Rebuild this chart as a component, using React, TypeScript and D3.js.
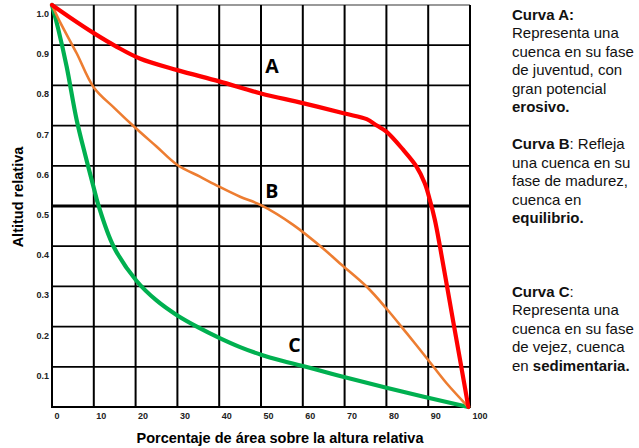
import React, { useRef, useEffect } from "react";
import * as d3 from "d3";

// curve readings (percent of area, relative altitude)
const curveAx = [0, 4.3, 10, 15.5, 21, 30, 40, 50, 60, 70, 75.3, 77.7, 80, 84, 87.2, 89.2, 90.4, 91.6, 92.8, 96, 98, 99.6];
const curveAy = [1.0, 0.969, 0.93, 0.896, 0.867, 0.838, 0.81, 0.78, 0.756, 0.73, 0.716, 0.7, 0.685, 0.64, 0.598, 0.556, 0.515, 0.465, 0.4, 0.212, 0.095, 0.0];

const curveBx = [0, 1.9, 5.9, 10, 15, 20, 25, 30, 35.4, 40, 45, 50, 57.7, 65, 68.9, 75.3, 80, 84.9, 90, 94.4, 99.6];
const curveBy = [1.0, 0.958, 0.88, 0.795, 0.743, 0.694, 0.648, 0.602, 0.573, 0.548, 0.523, 0.502, 0.453, 0.393, 0.357, 0.299, 0.245, 0.183, 0.117, 0.059, 0.0];

const curveCx = [0, 1.5, 3.5, 5.9, 8, 10, 11.1, 14.7, 20.2, 25, 29.8, 35, 40, 45, 50, 55, 60, 68.9, 80, 90, 99.6];
const curveCy = [1.0, 0.94, 0.847, 0.714, 0.625, 0.545, 0.502, 0.4, 0.314, 0.265, 0.229, 0.198, 0.172, 0.149, 0.13, 0.115, 0.102, 0.077, 0.048, 0.023, 0.0];

const xTicks = [0, 10, 20, 30, 40, 50, 60, 70, 80, 90, 100];
const yTicks = [0.1, 0.2, 0.3, 0.4, 0.5, 0.6, 0.7, 0.8, 0.9, 1.0];
const yTickLabels = ["0.1", "0.2", "0.3", "0.4", "0.5", "0.6", "0.7", "0.8", "0.9", "1.0"];

const curveNames = ["A", "B", "C"];
const curveLabelPos = [[51, 0.83], [51, 0.52], [56.5, 0.137]];

const notes = [
    [["Curva A:", true]],
    [["Representa una", false]],
    [["cuenca en su fase", false]],
    [["de juventud, con", false]],
    [["gran potencial", false]],
    [["erosivo.", true]],
    null,
    [["Curva B", true], [": Refleja", false]],
    [["una cuenca en su", false]],
    [["fase de madurez,", false]],
    [["cuenca en", false]],
    [["equilibrio.", true]],
    null,
    null,
    null,
    [["Curva C", true], [":", false]],
    [["Representa una", false]],
    [["cuenca en su fase", false]],
    [["de vejez, cuenca", false]],
    [["en ", false], ["sedimentaria.", true]],
];

const width = 639;
const height = 448;

const Hypsometric = () => {
    const ref = useRef(null);

    useEffect(() => {
        const root = d3.select(ref.current);
        root.selectAll("*").remove();

        const svg = root
            .append("svg")
            .attr("width", width)
            .attr("height", height)
            .style("position", "absolute")
            .style("left", 0)
            .style("top", 0)
            .style("background", "#fff");

        const x = d3.scaleLinear().domain([0, 100]).range([52, 470]);
        const y = d3.scaleLinear().domain([0, 1]).range([407, 5]);

        const grid = svg.append("g");
        // horizontal lines
        grid.selectAll("line.h")
            .data(yTicks)
            .enter()
            .append("line")
            .attr("x1", x(0))
            .attr("x2", x(100))
            .attr("y1", (d) => y(d))
            .attr("y2", (d) => y(d))
            .attr("stroke", (d) => (d === 1.0 ? "#777" : "#000"))
            .attr("stroke-width", (d) => (d === 0.5 ? 2.8 : d === 1.0 ? 1.5 : 1.7));
        // vertical lines
        grid.selectAll("line.v")
            .data(xTicks)
            .enter()
            .append("line")
            .attr("x1", (d) => x(d))
            .attr("x2", (d) => x(d))
            .attr("y1", y(1))
            .attr("y2", y(0))
            .attr("stroke", "#000")
            .attr("stroke-width", 2);
        // bottom axis
        grid.append("line")
            .attr("x1", x(0) - 1)
            .attr("x2", x(100) + 1)
            .attr("y1", y(0))
            .attr("y2", y(0))
            .attr("stroke", "#000")
            .attr("stroke-width", 2.2);

        // tick labels
        svg.selectAll("text.xt")
            .data(xTicks)
            .enter()
            .append("text")
            .attr("x", (d) => x(d) + 2.5)
            .attr("y", 419)
            .attr("font-family", "Liberation Sans, Arial, sans-serif")
            .attr("font-weight", "bold")
            .attr("font-size", 9)
            .attr("fill", "#222")
            .text((d) => d);

        svg.selectAll("text.yt")
            .data(yTicks)
            .enter()
            .append("text")
            .attr("x", 49)
            .attr("y", (d) => y(d) + 12)
            .attr("text-anchor", "end")
            .attr("font-family", "Liberation Sans, Arial, sans-serif")
            .attr("font-weight", "bold")
            .attr("font-size", 9)
            .attr("fill", "#222")
            .text((d, i) => yTickLabels[i]);

        // curves
        const line = d3
            .line()
            .x((d) => x(d[0]))
            .y((d) => y(d[1]))
            .curve(d3.curveCatmullRom.alpha(0.5));

        const curves = [
            { xs: curveCx, ys: curveCy, color: "#00b050", w: 4.2 },
            { xs: curveBx, ys: curveBy, color: "#ed7d31", w: 2.6 },
            { xs: curveAx, ys: curveAy, color: "#ff0000", w: 4.2 },
        ];
        curves.forEach((c) => {
            svg.append("path")
                .attr("d", line(c.xs.map((v, i) => [v, c.ys[i]])))
                .attr("fill", "none")
                .attr("stroke", c.color)
                .attr("stroke-width", c.w)
                .attr("stroke-linecap", "round")
                .attr("stroke-linejoin", "round");
        });

        svg.selectAll("text.cl")
            .data(curveNames)
            .enter()
            .append("text")
            .attr("x", (d, i) => x(curveLabelPos[i][0]))
            .attr("y", (d, i) => y(curveLabelPos[i][1]))
            .attr("font-family", "Open Sans, sans-serif")
            .attr("font-weight", "bold")
            .attr("font-size", 19.5)
            .attr("fill", "#000")
            .text((d) => d);

        // axis titles
        svg.append("text")
            .attr("x", 280)
            .attr("y", 442.5)
            .attr("text-anchor", "middle")
            .attr("font-family", "Liberation Sans, Arial, sans-serif")
            .attr("font-weight", "bold")
            .attr("font-size", 14.5)
            .text("Porcentaje de área sobre la altura relativa");

        svg.append("text")
            .attr("transform", "translate(22.5,197) rotate(-90)")
            .attr("text-anchor", "middle")
            .attr("font-family", "Liberation Sans, Arial, sans-serif")
            .attr("font-weight", "bold")
            .attr("font-size", 14.5)
            .text("Altitud relativa");

        // notes on the right
        const noteText = svg
            .append("text")
            .attr("font-family", "Liberation Sans, Arial, sans-serif")
            .attr("font-size", 15)
            .attr("fill", "#111");
        notes.forEach((row, i) => {
            if (!row) return;
            const first = noteText
                .append("tspan")
                .attr("x", 512)
                .attr("y", 20 + i * 18.45);
            first.attr("font-weight", row[0][1] ? "bold" : "normal").text(row[0][0]);
            row.slice(1).forEach((part) => {
                noteText.append("tspan")
                    .attr("font-weight", part[1] ? "bold" : "normal")
                    .text(part[0]);
            });
        });
    });

    return <div ref={ref}></div>;
};

export default function App() {
    return <Hypsometric />;
}
